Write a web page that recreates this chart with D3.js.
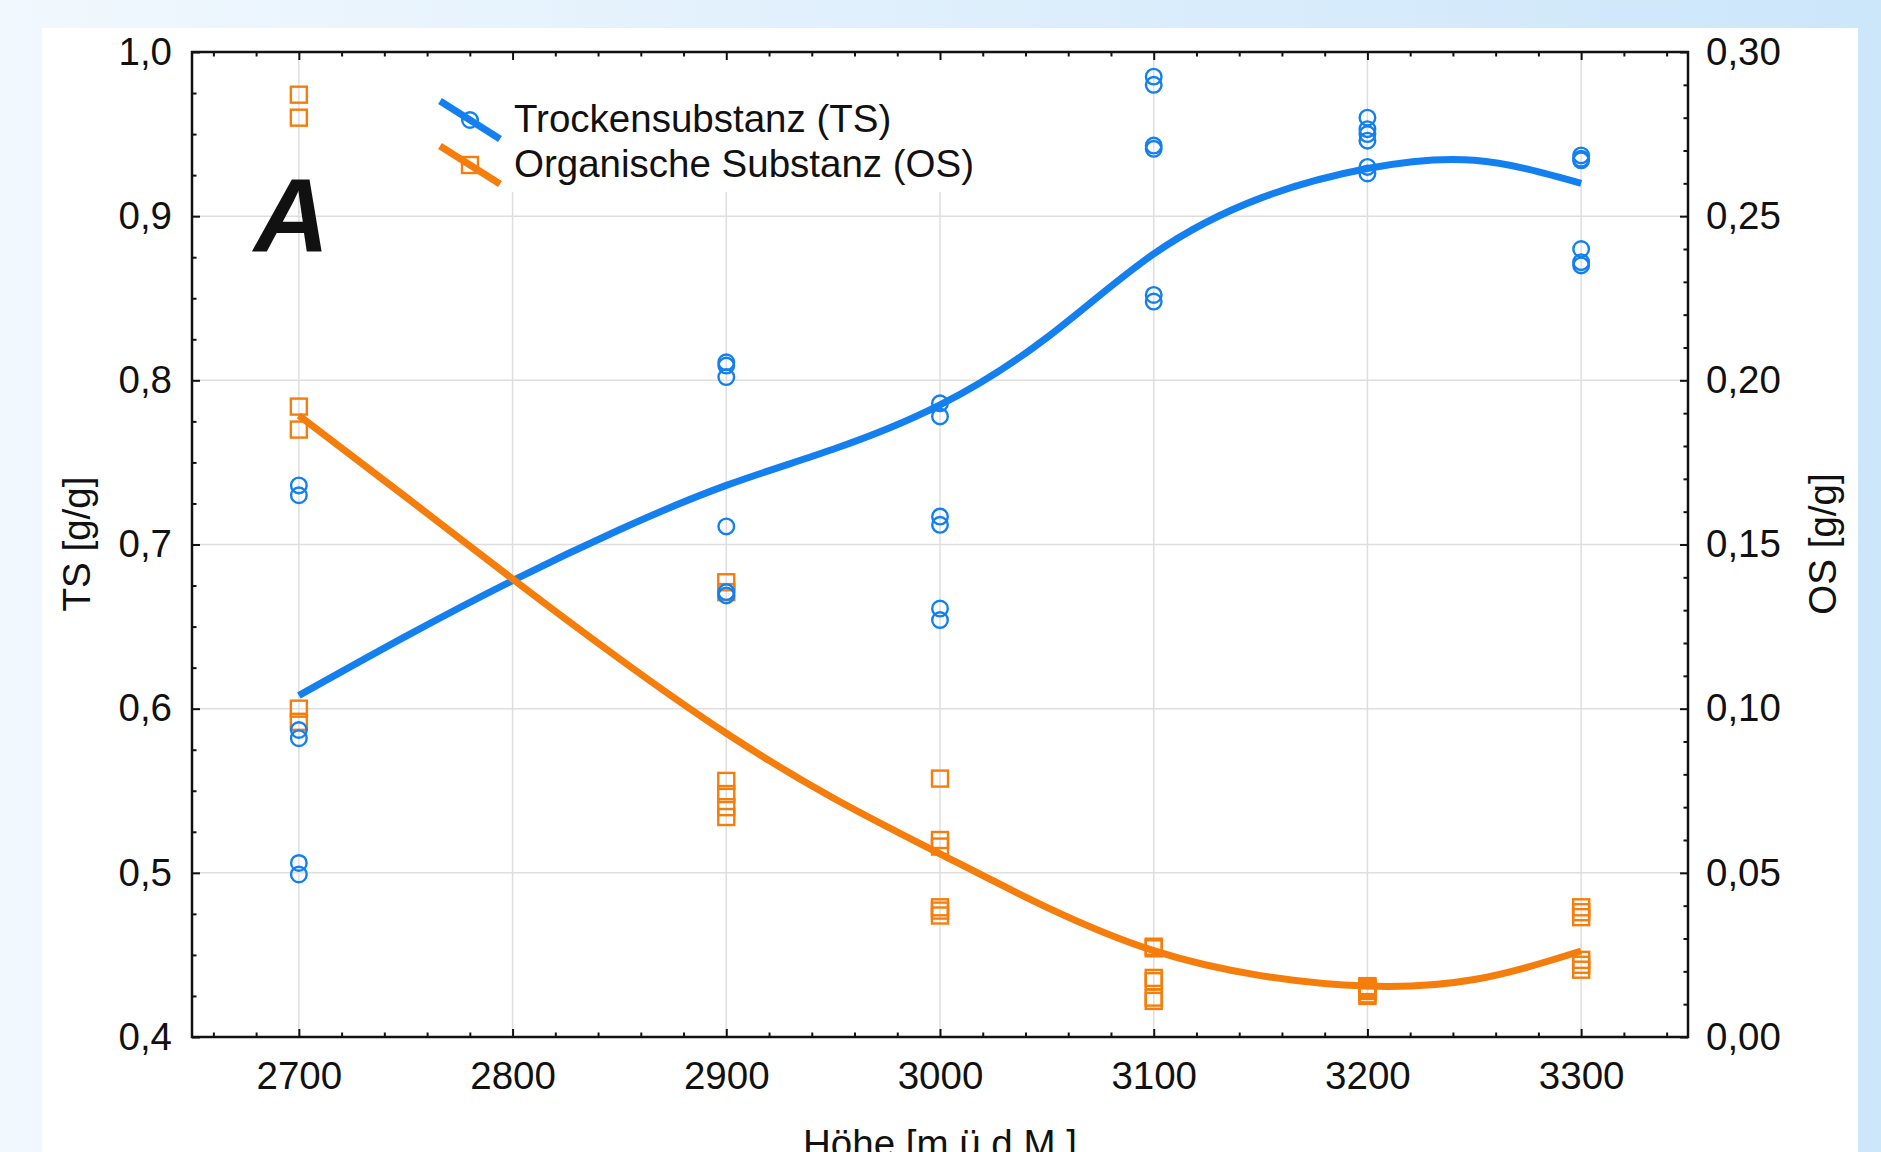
<!DOCTYPE html>
<html>
<head>
<meta charset="utf-8">
<script src="https://cdn.jsdelivr.net/npm/d3@7"></script>
<style>
  html, body { margin: 0; padding: 0; overflow: hidden; background: #fff; }
  svg { display: block; }
  text { font-family: "Liberation Sans", Arial, Helvetica, sans-serif; fill: #111; }
</style>
</head>
<body>
<svg id="chart" width="1881" height="1152"></svg>
<script>
// Sampling altitudes (m above sea level)
const altitudes = [2700, 2900, 3000, 3100, 3200, 3300];

// Dry matter (TS, g/g) per sample at each altitude
const tsSamples = [
  [0.736, 0.730, 0.587, 0.582, 0.506, 0.499],
  [0.811, 0.809, 0.802, 0.711, 0.671, 0.669],
  [0.786, 0.778, 0.717, 0.712, 0.661, 0.654],
  [0.985, 0.980, 0.943, 0.941, 0.852, 0.848],
  [0.960, 0.953, 0.950, 0.946, 0.930, 0.926],
  [0.937, 0.935, 0.934, 0.880, 0.872, 0.870]
];

// Organic matter (OS, g/g) per sample at each altitude
const osSamples = [
  [0.287, 0.280, 0.192, 0.185, 0.100, 0.096],
  [0.1385, 0.1355, 0.078, 0.074, 0.070, 0.067],
  [0.0787, 0.0600, 0.0580, 0.0395, 0.0385, 0.0370],
  [0.0275, 0.0270, 0.0180, 0.0170, 0.0120, 0.0110],
  [0.0155, 0.0150, 0.0145, 0.0140, 0.0130, 0.0125],
  [0.0395, 0.0380, 0.0365, 0.0235, 0.0220, 0.0205]
];

// Smoothed trend curves
const fitAltitudes = [2700, 2750, 2800, 2850, 2900, 2950, 3000, 3050, 3100, 3150, 3200, 3250, 3300];
const tsFit = [0.608, 0.644, 0.678, 0.709, 0.736, 0.758, 0.785, 0.826, 0.877, 0.911, 0.929, 0.934, 0.920];
const osFit = [0.1893, 0.1645, 0.1395, 0.1152, 0.0925, 0.0728, 0.0558, 0.0395, 0.0263, 0.0187, 0.0155, 0.0175, 0.0262];

// Axis ticks and labels
const xTicks = [2700, 2800, 2900, 3000, 3100, 3200, 3300];
const tsTicks = [0.4, 0.5, 0.6, 0.7, 0.8, 0.9, 1.0];
const tsTickLabels = ["0,4", "0,5", "0,6", "0,7", "0,8", "0,9", "1,0"];
const osTicks = [0, 0.05, 0.10, 0.15, 0.20, 0.25, 0.30];
const osTickLabels = ["0,00", "0,05", "0,10", "0,15", "0,20", "0,25", "0,30"];

const seriesNames = ["Trockensubstanz (TS)", "Organische Substanz (OS)"];
const xTitle = "Höhe [m ü.d.M.]";
const tsTitle = "TS [g/g]";
const osTitle = "OS [g/g]";
const panelLetter = "A";

const BLUE = "#1480ef";
const ORANGE = "#f57d0c";

const W = 1881, H = 1152;
const plot = { left: 192, right: 1688, top: 52, bottom: 1037 };

const svg = d3.select("#chart");

// Page background gradient
const defs = svg.append("defs");
const grad = defs.append("linearGradient").attr("id", "bg").attr("x1", "0").attr("x2", "1").attr("y1", "0").attr("y2", "0");
grad.append("stop").attr("offset", "0").attr("stop-color", "#f1f8fe");
grad.append("stop").attr("offset", "1").attr("stop-color", "#cce6fa");
svg.append("rect").attr("width", W).attr("height", H).attr("fill", "url(#bg)");
svg.append("rect").attr("x", 42).attr("y", 28).attr("width", 1816).attr("height", H - 28).attr("fill", "#fff");

// Scales
const x = d3.scaleLinear().domain([2650, 3350]).range([plot.left, plot.right]);
const yTS = d3.scaleLinear().domain([0.4, 1.0]).range([plot.bottom, plot.top]);
const yOS = d3.scaleLinear().domain([0, 0.30]).range([plot.bottom, plot.top]);

// Grid
const grid = svg.append("g").attr("stroke", "#dedede").attr("stroke-width", 1.5);
grid.selectAll("line.gx").data(xTicks).join("line").attr("class", "gx")
  .attr("x1", d => x(d)).attr("x2", d => x(d)).attr("y1", plot.top).attr("y2", plot.bottom);
grid.selectAll("line.gy").data(tsTicks).join("line").attr("class", "gy")
  .attr("x1", plot.left).attr("x2", plot.right).attr("y1", d => yTS(d)).attr("y2", d => yTS(d));

// Legend backdrop hides the grid behind it
svg.append("rect").attr("x", 430).attr("y", plot.top + 2).attr("width", 560).attr("height", 138).attr("fill", "#fff");

// Trend curves (natural cubic spline through the fitted values)
const tsLine = d3.line().x((d, i) => x(fitAltitudes[i])).y(d => yTS(d)).curve(d3.curveNatural);
const osLine = d3.line().x((d, i) => x(fitAltitudes[i])).y(d => yOS(d)).curve(d3.curveNatural);
svg.append("path").attr("d", tsLine(tsFit)).attr("fill", "none").attr("stroke", BLUE).attr("stroke-width", 7);
svg.append("path").attr("d", osLine(osFit)).attr("fill", "none").attr("stroke", ORANGE).attr("stroke-width", 7);

// Sample markers
const tsPoints = altitudes.flatMap((a, i) => tsSamples[i].map(v => ({ a, v })));
const osPoints = altitudes.flatMap((a, i) => osSamples[i].map(v => ({ a, v })));
const SQ = 16;
const R = 7.8;
svg.append("g").selectAll("rect").data(osPoints).join("rect")
  .attr("x", d => x(d.a) - SQ / 2).attr("y", d => yOS(d.v) - SQ / 2)
  .attr("width", SQ).attr("height", SQ)
  .attr("fill", "none").attr("stroke", ORANGE).attr("stroke-width", 2.4);
svg.append("g").selectAll("circle").data(tsPoints).join("circle")
  .attr("cx", d => x(d.a)).attr("cy", d => yTS(d.v)).attr("r", R)
  .attr("fill", "none").attr("stroke", BLUE).attr("stroke-width", 2.4);

// Axes (ticks point inward)
const fontSize = 38.5;
function styleAxis(g) {
  g.select(".domain").remove();
  g.selectAll(".tick line").attr("stroke", "#111").attr("stroke-width", 2);
  g.selectAll(".tick text").attr("font-size", fontSize).attr("fill", "#111")
    .attr("font-family", "'Liberation Sans', Arial, sans-serif");
}

const xMinor = d3.range(2660, 3341, 20).filter(v => v % 100 !== 0);
const tsMinor = d3.range(0, 25).map(i => 0.4 + i * 0.025).filter((v, i) => i % 4 !== 0);
const osMinor = d3.range(0, 31).map(i => i * 0.01).filter((v, i) => i % 5 !== 0);

// bottom
svg.append("g").attr("transform", `translate(0,${plot.bottom})`)
  .call(d3.axisBottom(x).tickValues(xTicks).tickFormat(d3.format("d")).tickSize(-8).tickSizeOuter(0).tickPadding(25))
  .call(styleAxis);
svg.append("g").attr("transform", `translate(0,${plot.bottom})`)
  .call(d3.axisBottom(x).tickValues(xMinor).tickFormat("").tickSize(-4.5).tickSizeOuter(0))
  .call(styleAxis);
// top
svg.append("g").attr("transform", `translate(0,${plot.top})`)
  .call(d3.axisTop(x).tickValues(xTicks).tickFormat("").tickSize(-8).tickSizeOuter(0))
  .call(styleAxis);
svg.append("g").attr("transform", `translate(0,${plot.top})`)
  .call(d3.axisTop(x).tickValues(xMinor).tickFormat("").tickSize(-4.5).tickSizeOuter(0))
  .call(styleAxis);
// left
svg.append("g").attr("transform", `translate(${plot.left},0)`)
  .call(d3.axisLeft(yTS).tickValues(tsTicks).tickFormat((d, i) => tsTickLabels[i]).tickSize(-8).tickSizeOuter(0).tickPadding(20))
  .call(styleAxis);
svg.append("g").attr("transform", `translate(${plot.left},0)`)
  .call(d3.axisLeft(yTS).tickValues(tsMinor).tickFormat("").tickSize(-4.5).tickSizeOuter(0))
  .call(styleAxis);
// right
svg.append("g").attr("transform", `translate(${plot.right},0)`)
  .call(d3.axisRight(yOS).tickValues(osTicks).tickFormat((d, i) => osTickLabels[i]).tickSize(-8).tickSizeOuter(0).tickPadding(18))
  .call(styleAxis);
svg.append("g").attr("transform", `translate(${plot.right},0)`)
  .call(d3.axisRight(yOS).tickValues(osMinor).tickFormat("").tickSize(-4.5).tickSizeOuter(0))
  .call(styleAxis);

// Frame
svg.append("rect").attr("x", plot.left).attr("y", plot.top)
  .attr("width", plot.right - plot.left).attr("height", plot.bottom - plot.top)
  .attr("fill", "none").attr("stroke", "#111").attr("stroke-width", 2.5);

// Axis titles
svg.append("text").attr("x", (plot.left + plot.right) / 2).attr("y", 1157)
  .attr("text-anchor", "middle").attr("font-size", fontSize).text(xTitle);
svg.append("text").attr("transform", "translate(90,544) rotate(-90)")
  .attr("text-anchor", "middle").attr("font-size", fontSize).text(tsTitle);
svg.append("text").attr("transform", "translate(1836,544) rotate(-90)")
  .attr("text-anchor", "middle").attr("font-size", fontSize).text(osTitle);

// Panel letter
svg.append("text").attr("x", 254).attr("y", 251)
  .attr("font-size", 104).attr("font-weight", "bold").attr("font-style", "italic")
  .attr("fill", "#000").text(panelLetter);

// Legend
const legend = svg.append("g");
const legendRows = [
  { name: seriesNames[0], color: BLUE, cy: 120, base: 132, shape: "circle" },
  { name: seriesNames[1], color: ORANGE, cy: 165, base: 177, shape: "square" }
];
legendRows.forEach(r => {
  legend.append("line").attr("x1", 440).attr("y1", r.cy - 19).attr("x2", 500).attr("y2", r.cy + 19)
    .attr("stroke", r.color).attr("stroke-width", 7);
  if (r.shape === "circle") {
    legend.append("circle").attr("cx", 470).attr("cy", r.cy).attr("r", R)
      .attr("fill", "none").attr("stroke", r.color).attr("stroke-width", 2.4);
  } else {
    legend.append("rect").attr("x", 470 - SQ / 2).attr("y", r.cy - SQ / 2).attr("width", SQ).attr("height", SQ)
      .attr("fill", "none").attr("stroke", r.color).attr("stroke-width", 2.4);
  }
  legend.append("text").attr("x", 514).attr("y", r.base).attr("font-size", fontSize).text(r.name);
});
</script>
</body>
</html>
